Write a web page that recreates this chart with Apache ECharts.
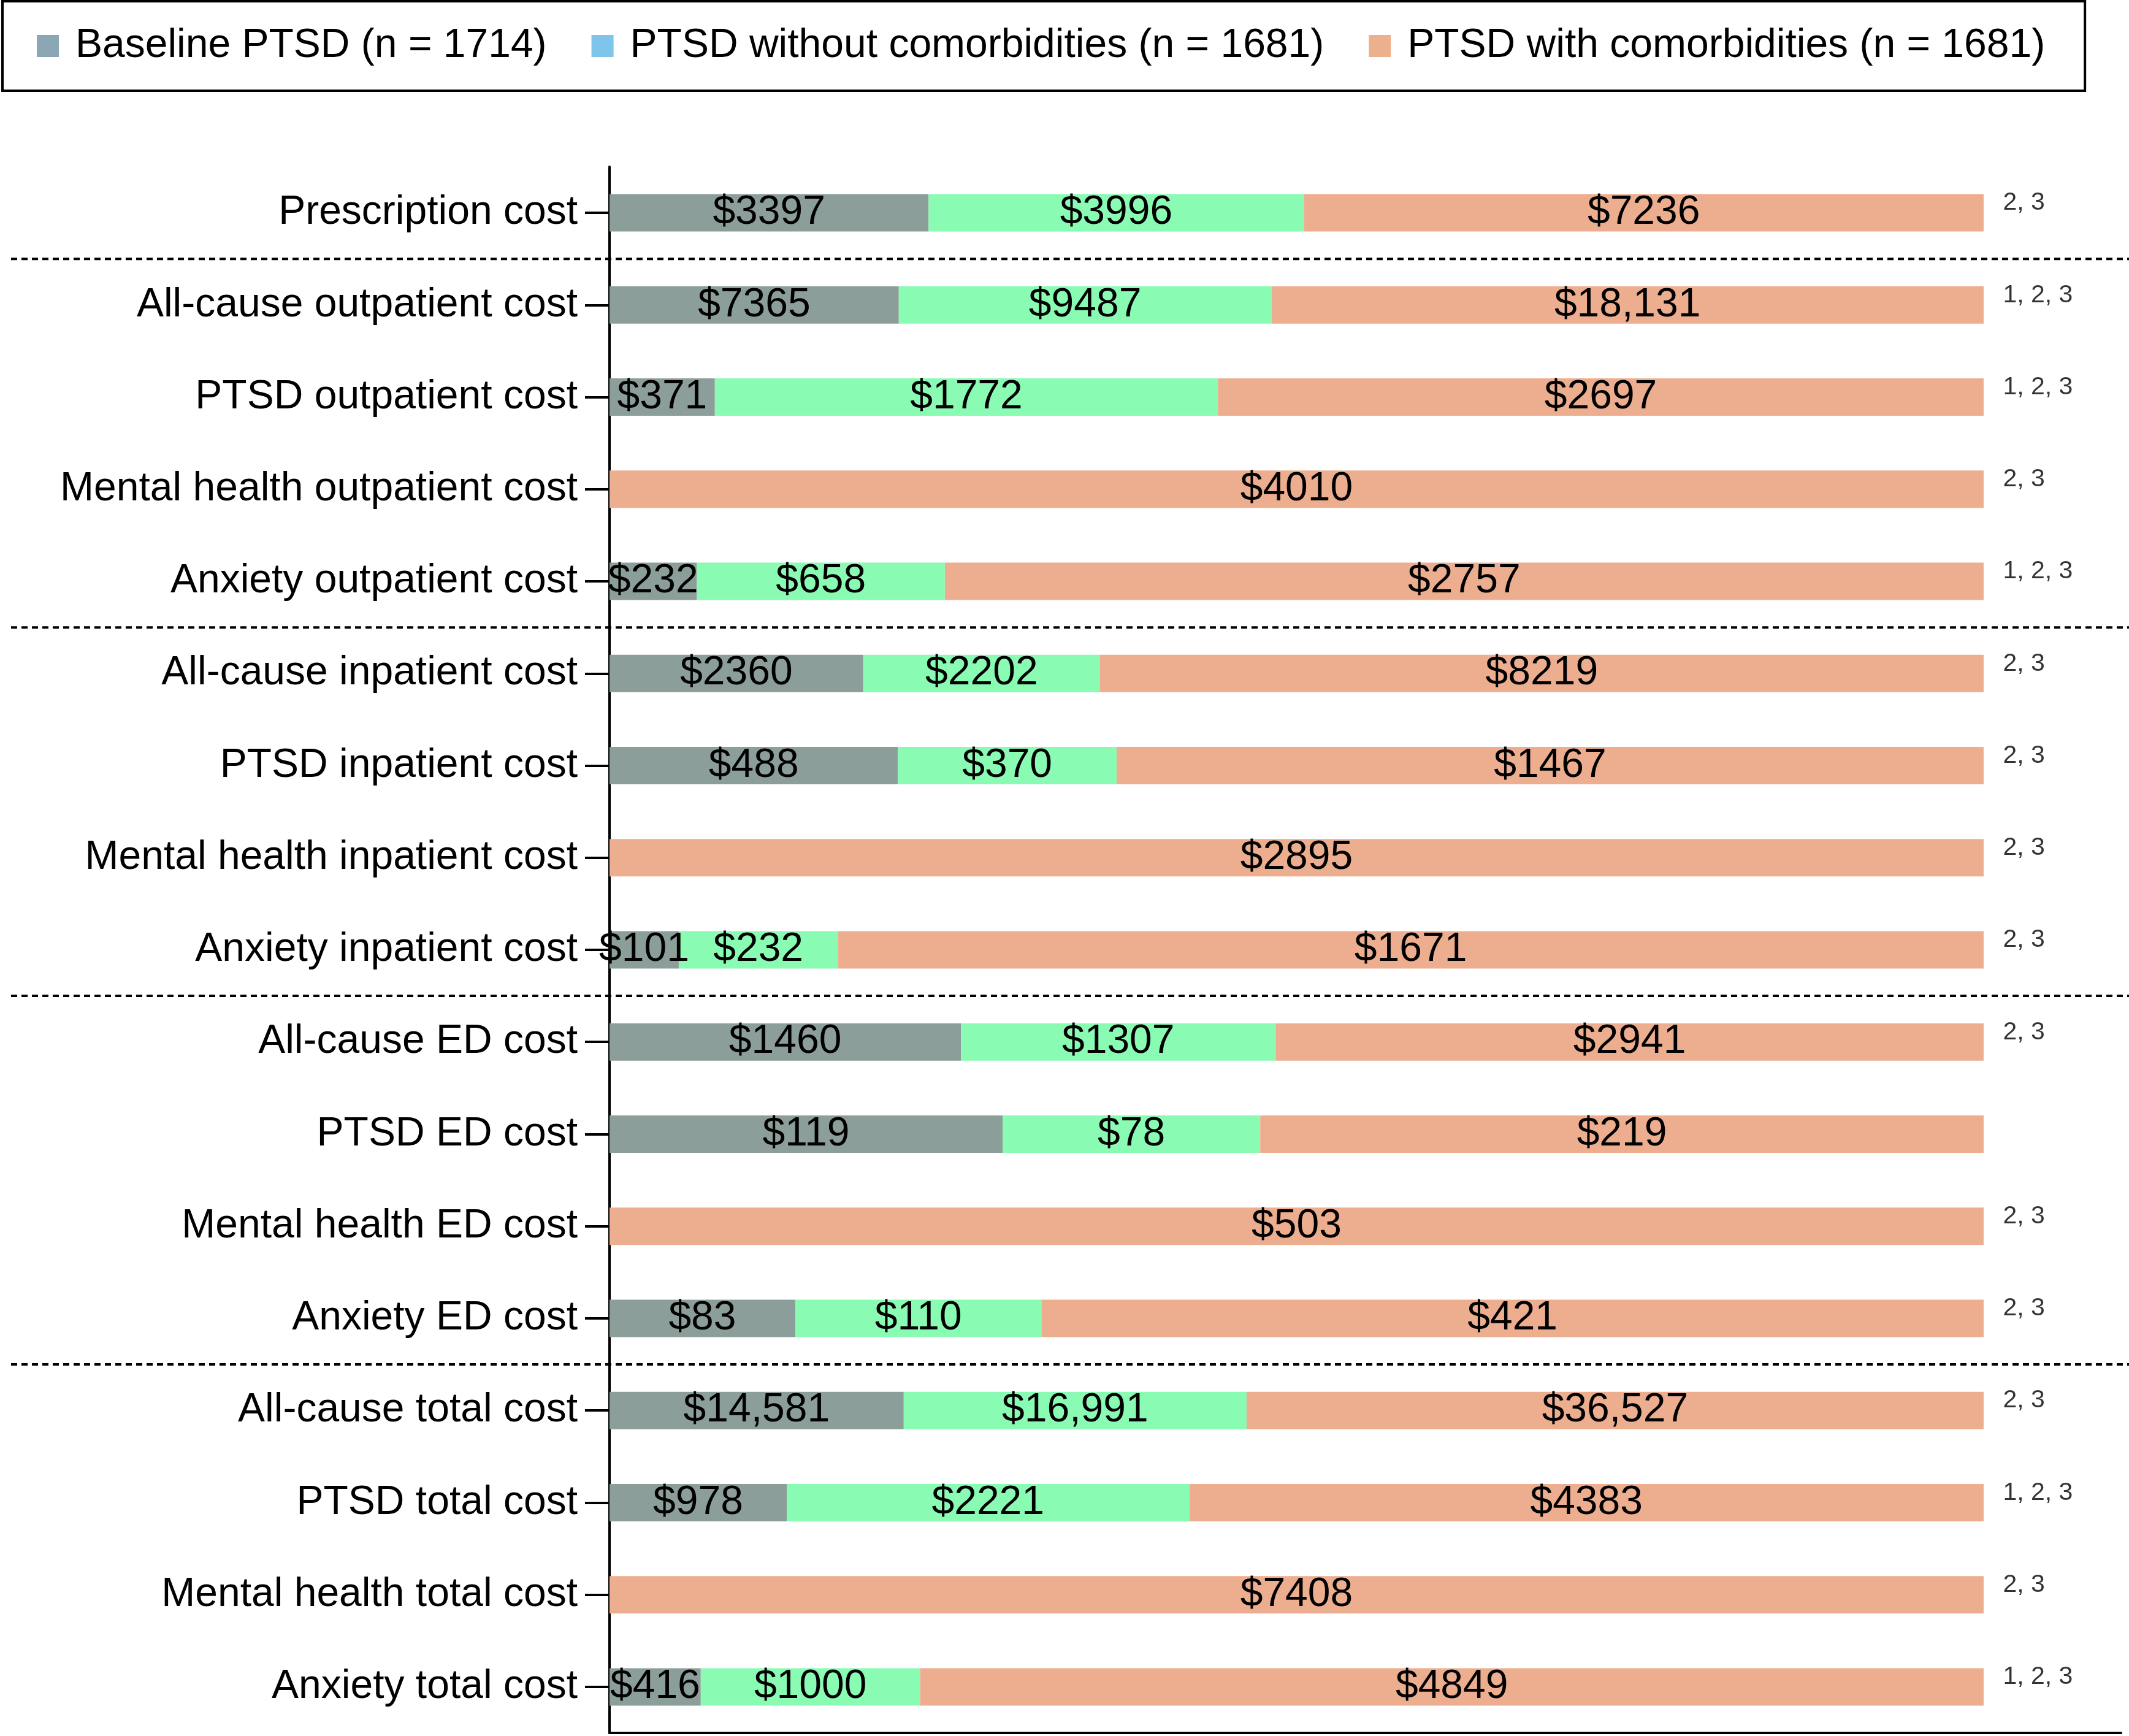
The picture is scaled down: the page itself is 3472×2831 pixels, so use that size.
<!DOCTYPE html>
<html><head><meta charset="utf-8">
<script src="https://cdn.jsdelivr.net/npm/echarts@6/dist/echarts.min.js"></script>
<style>html,body{margin:0;padding:0;background:#fff}#c{width:3472px;height:2831px}</style>
</head><body><div id="c"></div>
<script>
const categories = ['Prescription cost','All-cause outpatient cost','PTSD outpatient cost','Mental health outpatient cost','Anxiety outpatient cost','All-cause inpatient cost','PTSD inpatient cost','Mental health inpatient cost','Anxiety inpatient cost','All-cause ED cost','PTSD ED cost','Mental health ED cost','Anxiety ED cost','All-cause total cost','PTSD total cost','Mental health total cost','Anxiety total cost'];
const baseline   = [3397, 7365, 371, null, 232, 2360, 488, null, 101, 1460, 119, null, 83, 14581, 978, null, 416];
const noComorb   = [3996, 9487, 1772, null, 658, 2202, 370, null, 232, 1307, 78, null, 110, 16991, 2221, null, 1000];
const withComorb = [7236, 18131, 2697, 4010, 2757, 8219, 1467, 2895, 1671, 2941, 219, 503, 421, 36527, 4383, 7408, 4849];
const notes = ['2, 3','1, 2, 3','1, 2, 3','2, 3','1, 2, 3','2, 3','2, 3','2, 3','2, 3','2, 3','','2, 3','2, 3','2, 3','1, 2, 3','2, 3','1, 2, 3'];
const seriesNames = ['Baseline PTSD (n = 1714)','PTSD without comorbidities (n = 1681)','PTSD with comorbidities (n = 1681)'];

const barColors = ['#8c9e9a','#8afbb3','#edae8f'];
const legendColors = ['#8aa7b3','#7fc4ea','#edb08f'];
const FONT = 'Liberation Sans, Arial, sans-serif';

const totals = categories.map((_, i) => (baseline[i]||0) + (noComorb[i]||0) + (withComorb[i]||0));
const pct = arr => arr.map((v, i) => v == null ? 0 : v / totals[i] * 100);
const fmt = v => '$' + (v >= 10000 ? v.toLocaleString('en-US') : String(v));
const raws = [baseline, noComorb, withComorb];

const chart = echarts.init(document.getElementById('c'), null, {renderer: 'canvas'});

const barSeries = raws.map((raw, k) => ({
  name: seriesNames[k],
  type: 'bar',
  stack: 'total',
  barWidth: 61,
  data: pct(raw),
  itemStyle: {color: barColors[k]},
  label: {
    show: true, position: 'inside', fontSize: 66, color: '#000', fontFamily: FONT,
    textBorderWidth: 0,
    formatter: p => raw[p.dataIndex] == null ? '' : fmt(raw[p.dataIndex])
  }
}));

chart.setOption({
  animation: false,
  backgroundColor: '#fff',
  textStyle: {fontFamily: FONT},
  legend: {
    left: 4, top: 2,
    padding: [40, 65, 40, 56],
    borderColor: '#000', borderWidth: 4,
    itemWidth: 36, itemHeight: 36, itemGap: 73,
    icon: 'rect',
    textStyle: {fontSize: 66, color: '#000', fontFamily: FONT, padding: [0, 0, 0, 22]},
    data: seriesNames.map((n, i) => ({name: n, itemStyle: {color: legendColors[i]}}))
  },
  grid: {left: 994, right: 13, top: 272, bottom: 5, containLabel: false},
  xAxis: {
    type: 'value', min: 0, max: 110,
    axisLine: {show: true, lineStyle: {color: '#000', width: 4}},
    axisTick: {show: false}, axisLabel: {show: false}, splitLine: {show: false}
  },
  yAxis: {
    type: 'category', data: categories, inverse: true,
    axisLine: {show: true, lineStyle: {color: '#000', width: 4}},
    axisTick: {show: true, alignWithLabel: true, length: 40, lineStyle: {color: '#000', width: 4}},
    axisLabel: {fontSize: 66, color: '#000', fontFamily: FONT, margin: 52}
  },
  series: barSeries.concat([{
    name: 'notes',
    type: 'scatter',
    silent: true,
    symbol: 'circle', symbolSize: 1,
    itemStyle: {color: 'transparent'},
    data: categories.map((c, i) => [100, c]),
    label: {
      show: true, position: 'right', distance: 31, offset: [0, -16],
      fontSize: 41, color: '#000', fontFamily: FONT,
      formatter: p => notes[p.dataIndex]
    }
  }])
});

const sepAfter = [0, 4, 8, 12];
const ys = sepAfter.map(i => (chart.convertToPixel({yAxisIndex: 0}, categories[i]) + chart.convertToPixel({yAxisIndex: 0}, categories[i + 1])) / 2);
chart.setOption({
  graphic: ys.map(y => ({
    type: 'line', silent: true,
    shape: {x1: 18, y1: y, x2: 3472, y2: y},
    style: {stroke: '#000', lineWidth: 4, lineDash: [10, 7]}
  }))
});
</script>
</body></html>
